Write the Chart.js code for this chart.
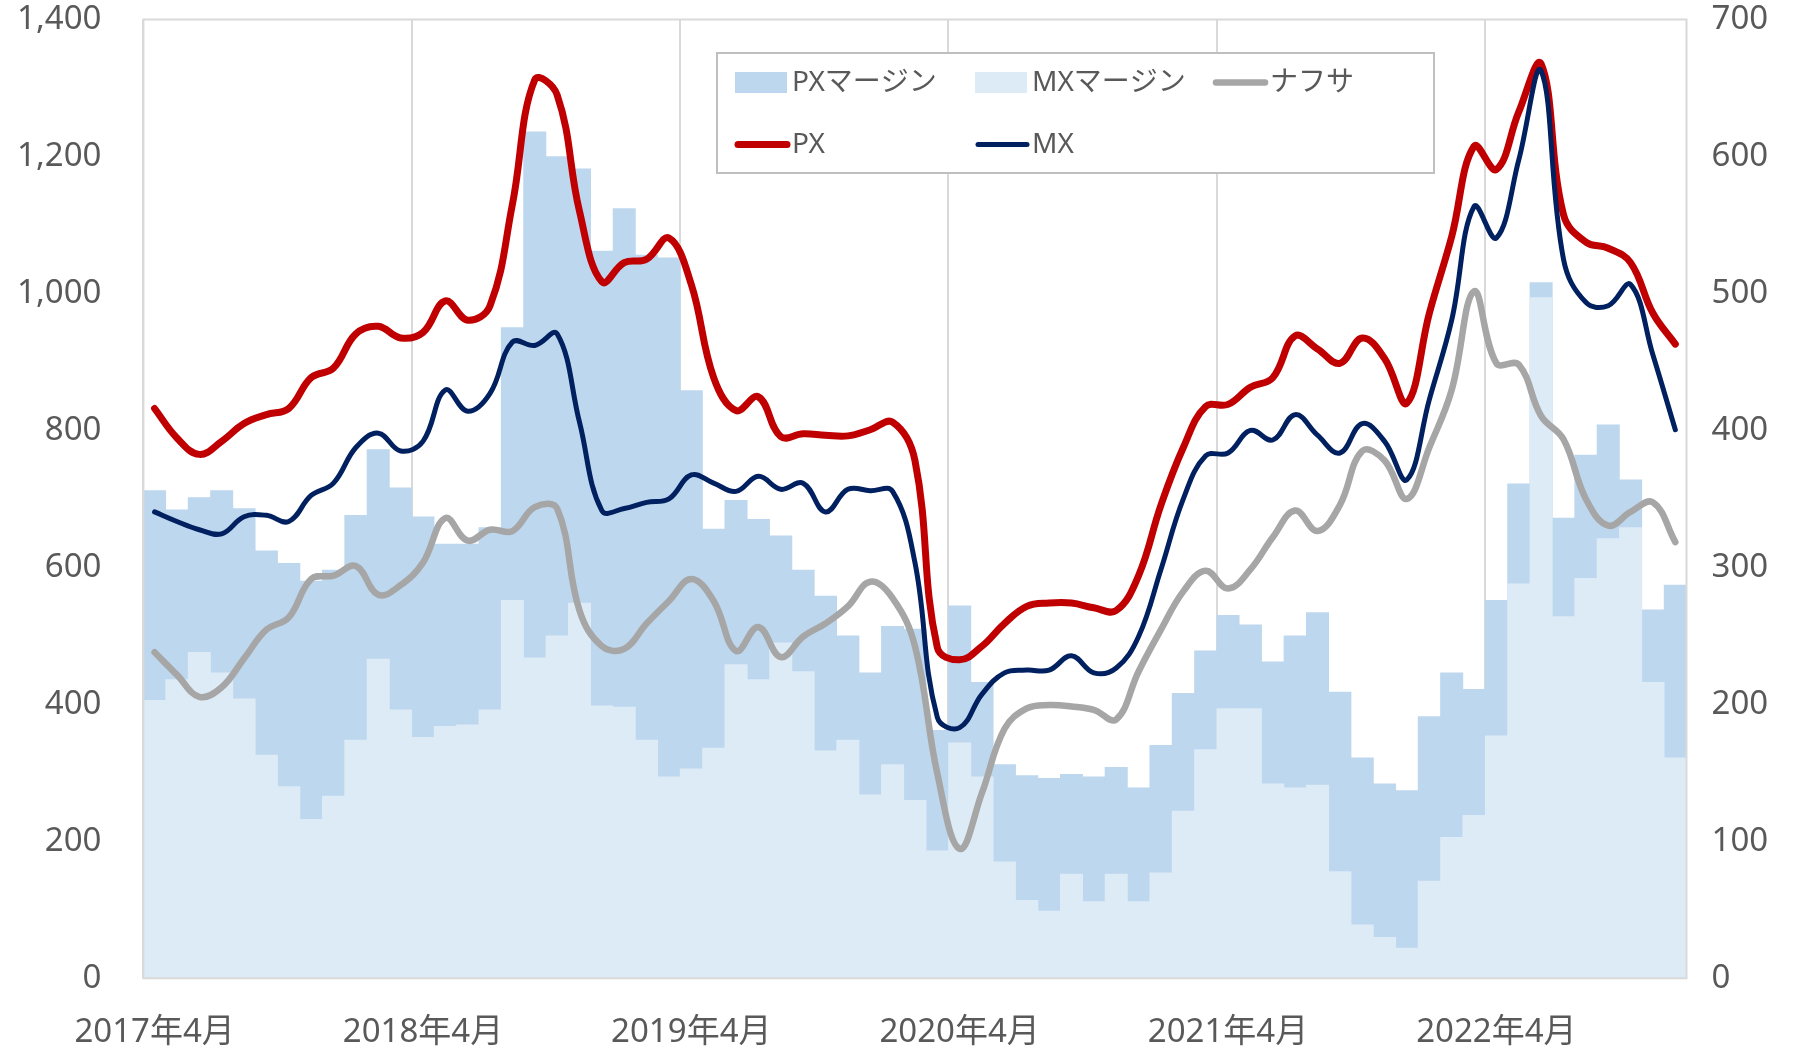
<!DOCTYPE html>
<html><head><meta charset="utf-8">
<script src="https://cdn.jsdelivr.net/npm/chart.js@4/dist/chart.umd.min.js"></script>
<style>html,body{margin:0;padding:0;background:#fff;overflow:hidden}#wrap{width:1799px;height:1046px;position:relative}</style>
</head><body><div id="wrap"><canvas id="c"></canvas></div>
<script>
const months = [
'2017年4月','2017年5月','2017年6月','2017年7月','2017年8月','2017年9月','2017年10月','2017年11月','2017年12月','2018年1月','2018年2月','2018年3月',
'2018年4月','2018年5月','2018年6月','2018年7月','2018年8月','2018年9月','2018年10月','2018年11月','2018年12月','2019年1月','2019年2月','2019年3月',
'2019年4月','2019年5月','2019年6月','2019年7月','2019年8月','2019年9月','2019年10月','2019年11月','2019年12月','2020年1月','2020年2月','2020年3月',
'2020年4月','2020年5月','2020年6月','2020年7月','2020年8月','2020年9月','2020年10月','2020年11月','2020年12月','2021年1月','2021年2月','2021年3月',
'2021年4月','2021年5月','2021年6月','2021年7月','2021年8月','2021年9月','2021年10月','2021年11月','2021年12月','2022年1月','2022年2月','2022年3月',
'2022年4月','2022年5月','2022年6月','2022年7月','2022年8月','2022年9月','2022年10月','2022年11月','2022年12月'];

// PX margin / MX margin (right axis)
const pxMargin = [356,342,351,356,343,312,303,290,298,338,386,358,
                  337,317,317,329,475,618,600,591,531,562,528,526,
                  429,328,349,335,323,298,279,250,223,257,255,181,
                  272,216,156,148,146,149,147,154,139,170,208,239,
                  265,258,231,250,267,209,161,142,137,191,223,211,
                  276,361,508,336,382,404,364,269,287];
const mxMargin = [203,218,238,223,204,163,140,116,133,174,233,196,
                  176,184,185,196,276,234,250,274,199,198,174,147,
                  153,168,229,218,245,224,166,174,134,156,130,93,
                  172,147,85,57,49,76,56,76,56,77,122,167,
                  197,197,142,139,141,78,39,30,22,71,103,119,
                  177,288,497,264,292,321,329,216,161];
// Prices (left axis)
const naphtha = [476,443,411,425,467,509,527,583,588,602,560,574,
                 607,672,639,655,653,688,686,537,485,481,518,551,
                 583,551,478,513,469,499,518,543,579,555,485,299,
                 189,271,364,394,399,397,392,378,448,509,565,595,
                 569,597,644,683,653,691,770,756,700,775,859,1003,
                 898,896,821,787,700,661,681,695,637];
const px = [832,789,765,784,810,823,832,877,891,941,952,935,
            943,989,961,982,1130,1312,1290,1120,1017,1045,1050,1081,
            1013,877,829,849,791,795,793,792,801,812,756,483,
            465,485,518,543,548,548,541,537,588,691,775,835,
            838,863,877,938,919,898,935,905,840,971,1083,1215,
            1181,1265,1335,1115,1075,1066,1045,971,926];
const mx = [681,667,655,649,674,676,667,705,723,775,796,770,
            784,859,828,854,929,924,941,812,683,686,695,700,
            735,723,711,733,714,723,681,714,712,711,607,381,
            366,415,446,450,450,471,446,453,499,597,700,763,
            767,800,786,823,793,767,810,784,728,845,961,1127,
            1081,1195,1325,1050,987,982,1013,910,801];

const FONT = '"Noto Sans", "Noto Sans CJK JP", sans-serif';
const TEXT = '#595959';
const GRID = '#D9D9D9';

const framePlugin = {
  id: 'frame',
  afterDatasetsDraw(chart) {
    const a = chart.chartArea, c = chart.ctx;
    c.save();
    c.strokeStyle = GRID; c.lineWidth = 2;
    c.strokeRect(a.left, a.top, a.right - a.left, a.bottom - a.top);
    c.restore();
  }
};

const legendPlugin = {
  id: 'boxLegend',
  afterDraw(chart) {
    const c = chart.ctx;
    const ds = chart.data.datasets;
    const box = {x: 717, y: 53, w: 717, h: 120};
    c.save();
    c.fillStyle = '#fff';
    c.fillRect(box.x, box.y, box.w, box.h);
    c.strokeStyle = '#BFBFBF'; c.lineWidth = 2;
    c.strokeRect(box.x, box.y, box.w, box.h);
    const cols = [735, 975, 1213];
    const rows = [82.5, 144.5];
    const sw = 52;
    c.font = '28px ' + FONT;
    c.textBaseline = 'middle';
    c.textAlign = 'left';
    ds.forEach((d, i) => {
      const col = i < 3 ? i : i - 3;
      const row = i < 3 ? 0 : 1;
      const x = cols[col], y = rows[row];
      if (d.type === 'bar') {
        c.fillStyle = d.backgroundColor;
        c.fillRect(x, y - 10.5, sw, 21);
      } else {
        c.strokeStyle = d.borderColor;
        c.lineWidth = d.borderWidth;
        c.lineCap = 'round';
        c.beginPath(); c.moveTo(x + 3, y); c.lineTo(x + sw, y); c.stroke();
      }
      c.fillStyle = TEXT;
      c.fillText(d.label, x + sw + 5, y + 1);
    });
    c.restore();
  }
};

const lineCommon = {type: 'line', yAxisID: 'y', pointRadius: 0, pointHoverRadius: 0, tension: 0.4,
  borderCapStyle: 'round', borderJoinStyle: 'round', fill: false};
const barCommon = {type: 'bar', yAxisID: 'y1', grouped: false, barPercentage: 1, categoryPercentage: 1, borderWidth: 0};

new Chart(document.getElementById('c'), {
  type: 'bar',
  data: {
    labels: months,
    datasets: [
      Object.assign({label: 'PXマージン', data: pxMargin, backgroundColor: '#BDD7EE', order: 6}, barCommon),
      Object.assign({label: 'MXマージン', data: mxMargin, backgroundColor: '#DDEBF7', order: 5}, barCommon),
      Object.assign({label: 'ナフサ', data: naphtha, borderColor: '#A6A6A6', borderWidth: 6.5, order: 3}, lineCommon),
      Object.assign({label: 'PX', data: px, borderColor: '#C00000', borderWidth: 7, order: 2}, lineCommon),
      Object.assign({label: 'MX', data: mx, borderColor: '#002060', borderWidth: 5, order: 1}, lineCommon)
    ]
  },
  options: {
    responsive: true, maintainAspectRatio: false, animation: false,
    layout: {padding: {top: 19.5, left: 0, right: 0, bottom: 0}},
    plugins: {legend: {display: false}, tooltip: {enabled: false}},
    scales: {
      x: {
        type: 'category', offset: true,
        grid: {offset: true, drawTicks: false, lineWidth: 2,
               color: (ctx) => (ctx.index % 12 === 0 ? GRID : 'rgba(0,0,0,0)')},
        border: {display: false},
        ticks: {autoSkip: false, maxRotation: 0, minRotation: 0, padding: 34, color: TEXT,
                font: {family: FONT, size: 33},
                callback: function (v, i) { return i % 12 === 0 ? this.getLabelForValue(v) : ''; }},
        afterFit: (s) => { s.height = 67.7; s.paddingLeft = 0; s.paddingRight = 0; }
      },
      y: {
        position: 'left', min: 0, max: 1400,
        grid: {display: false, drawTicks: false}, border: {display: false},
        ticks: {stepSize: 200, padding: 42, color: TEXT, font: {family: FONT, size: 33},
                callback: (v) => v.toLocaleString('en-US')},
        afterFit: (s) => { s.width = 143.4; s.paddingTop = 0; s.paddingBottom = 0; }
      },
      y1: {
        position: 'right', min: 0, max: 700,
        grid: {display: false, drawTicks: false}, border: {display: false},
        ticks: {stepSize: 100, padding: 25, color: TEXT, font: {family: FONT, size: 33}},
        afterFit: (s) => { s.width = 112.5; s.paddingTop = 0; s.paddingBottom = 0; }
      }
    }
  },
  plugins: [framePlugin, legendPlugin]
});
</script>
</body></html>
